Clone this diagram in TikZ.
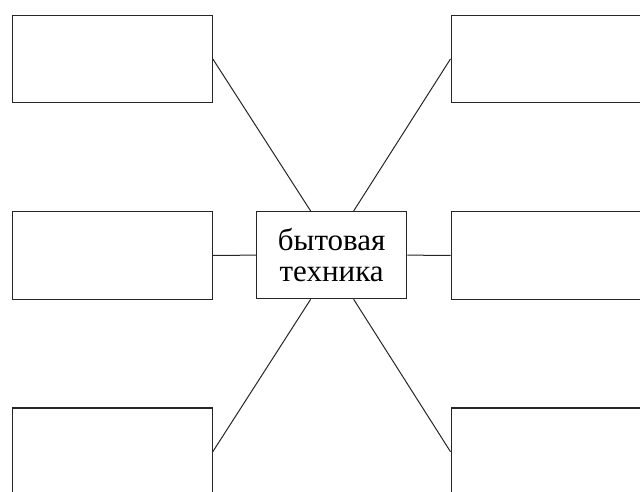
\documentclass[tikz,border=0pt]{standalone}
\usepackage{fontspec}
\setmainfont{Liberation Serif}
\begin{document}
\begin{tikzpicture}[x=1pt,y=-1pt,
  outer box/.style={draw=black!85, line width=1.3pt, minimum width=199.5pt, minimum height=87.5pt, inner sep=0pt, anchor=north west},
  centre box/.style={draw=black!85, line width=1.3pt, minimum width=150pt, minimum height=87pt, inner sep=0pt, anchor=north west, align=center, font=\fontsize{31}{30.5}\selectfont},
  link/.style={draw=black!85, line width=1pt}]
\useasboundingbox (0,0) rectangle (640,491);
\clip (0,0) rectangle (640,491);
\node[outer box] (tl) at (12,14.5) {};
\node[outer box] (tr) at (450.5,14.5) {};
\node[outer box] (ml) at (12,211) {};
\node[outer box] (mr) at (450.5,211) {};
\node[outer box] (bl) at (12,407.3) {};
\node[outer box] (br) at (450.5,407.3) {};
\node[centre box] (c) at (256,211) {бытовая\\техника};
\path[link] (tl.east) -- ([xshift=-21pt]c.north);
\path[link] (tr.west) -- ([xshift=22pt]c.north);
\path[link] (ml.east) -- (c.west);
\path[link] (mr.west) -- (c.east);
\path[link] (bl.east) -- ([xshift=-21pt]c.south);
\path[link] (br.west) -- ([xshift=22pt]c.south);
\end{tikzpicture}
\end{document}
